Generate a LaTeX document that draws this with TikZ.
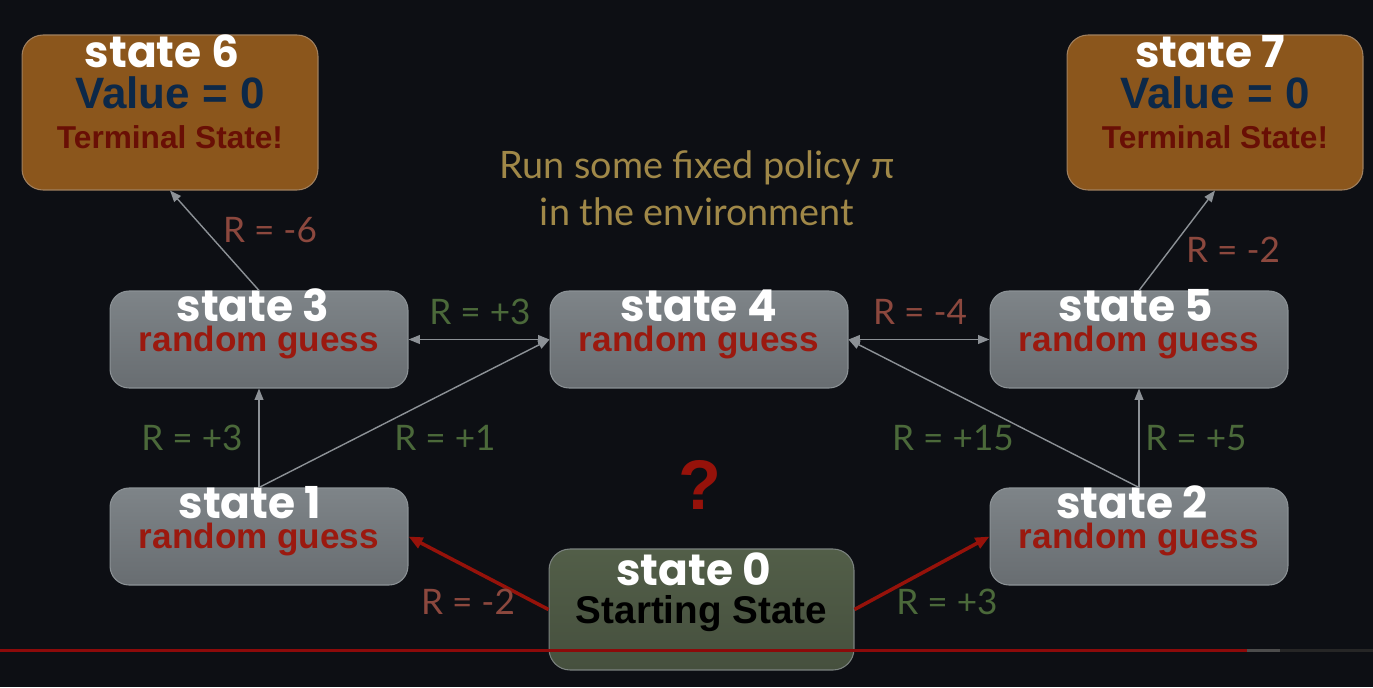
\documentclass[tikz,border=0pt]{standalone}
\usepackage{fontspec}
\setmainfont{Liberation Sans}
\newfontfamily\titlefont{Poppins}
\newfontfamily\labelfont{Lato}
\usetikzlibrary{arrows.meta,positioning}
\usepackage{xcolor}
\definecolor{bgdark}{RGB}{13,15,20}
\definecolor{guesstop}{RGB}{126,132,136}
\definecolor{guessbot}{RGB}{104,109,113}
\definecolor{boxedge}{RGB}{140,146,150}
\definecolor{termorange}{RGB}{139,86,28}
\definecolor{termedge}{RGB}{160,128,95}
\definecolor{starttop}{RGB}{82,94,72}
\definecolor{startbot}{RGB}{70,80,62}
\definecolor{guessred}{RGB}{155,25,15}
\definecolor{valuenavy}{RGB}{12,40,72}
\definecolor{termred}{RGB}{105,15,5}
\definecolor{lblgreen}{RGB}{75,105,58}
\definecolor{lblred}{RGB}{140,72,62}
\definecolor{policygold}{RGB}{160,136,72}
\definecolor{arrowgrey}{RGB}{140,145,150}
\definecolor{arrowred}{RGB}{150,18,10}
\definecolor{barred}{RGB}{140,10,10}

\begin{document}
\begin{tikzpicture}[
    x=0.02cm, y=-0.02cm,
    guessbox/.style={draw=boxedge, line width=0.6pt, rounded corners=0.38cm, minimum width=5.96cm, minimum height=1.94cm, top color=guesstop, bottom color=guessbot},
    termbox/.style={draw=termedge, line width=0.6pt, rounded corners=0.42cm, minimum width=5.92cm, minimum height=3.1cm, fill=termorange},
    startbox/.style={draw=boxedge!70!starttop, line width=0.6pt, rounded corners=0.42cm, minimum width=6.1cm, minimum height=2.42cm, top color=starttop, bottom color=startbot},
    stitle/.style={anchor=base, inner sep=0pt, text=white, font=\titlefont\bfseries\fontsize{25}{29}\selectfont},
    guess/.style={anchor=base, inner sep=0pt, text=guessred, font=\bfseries\fontsize{20}{24}\selectfont},
    value/.style={anchor=base, inner sep=0pt, text=valuenavy, font=\bfseries\fontsize{25}{29}\selectfont},
    term/.style={anchor=base, inner sep=0pt, text=termred, font=\bfseries\fontsize{18}{22}\selectfont},
    start/.style={anchor=base, inner sep=0pt, text=black, font=\bfseries\fontsize{22}{26}\selectfont},
    reward/.style={inner sep=0pt, font=\labelfont\fontsize{20}{24}\selectfont},
    good/.style={reward, text=lblgreen},
    bad/.style={reward, text=lblred},
    arrow/.style={-{Triangle[length=6.5pt, width=5pt]}, arrowgrey, line width=0.8pt},
    both/.style={{Triangle[length=6.5pt, width=5pt]}-{Triangle[length=6.5pt, width=5pt]}, arrowgrey, line width=0.8pt},
    redarrow/.style={-{Triangle[length=8pt, width=6.5pt]}, arrowred, line width=2pt},
]
    \fill[bgdark] (0,0) rectangle (1373,687);
    \useasboundingbox (0,0) rectangle (1373,687);

    % terminal states
    \node[termbox] (s6) at (170,112.5) {};
    \node[stitle] (s6t) at ([xshift=-0.16cm, yshift=-0.66cm]s6.north) {state 6};
    \node[value] (s6v) at ([yshift=-1.48cm]s6.north) {Value = 0};
    \node[term] (s6x) at ([yshift=-2.28cm]s6.north) {Terminal State!};

    \node[termbox] (s7) at (1215,112.5) {};
    \node[stitle] (s7t) at ([xshift=-0.1cm, yshift=-0.66cm]s7.north) {state 7};
    \node[value] (s7v) at ([yshift=-1.48cm]s7.north) {Value = 0};
    \node[term] (s7x) at ([yshift=-2.28cm]s7.north) {Terminal State!};

    % middle row
    \node[guessbox] (s3) at (259,339.5) {};
    \node[stitle] (s3t) at ([xshift=-0.12cm, yshift=-0.63cm]s3.north) {state 3};
    \node[guess] (s3g) at ([yshift=-1.23cm]s3.north) {random guess};

    \node[guessbox] (s4) at (699,339.5) {};
    \node[stitle] (s4t) at ([yshift=-0.63cm]s4.north) {state 4};
    \node[guess] (s4g) at ([yshift=-1.23cm]s4.north) {random guess};

    \node[guessbox] (s5) at (1139,339.5) {};
    \node[stitle] (s5t) at ([xshift=-0.06cm, yshift=-0.63cm]s5.north) {state 5};
    \node[guess] (s5g) at ([yshift=-1.23cm]s5.north) {random guess};

    % bottom row
    \node[guessbox] (s1) at (259,536.5) {};
    \node[stitle] (s1t) at ([xshift=-0.18cm, yshift=-0.63cm]s1.north) {state 1};
    \node[guess] (s1g) at ([yshift=-1.23cm]s1.north) {random guess};

    \node[guessbox] (s2) at (1139,536.5) {};
    \node[stitle] (s2t) at ([xshift=-0.14cm, yshift=-0.63cm]s2.north) {state 2};
    \node[guess] (s2g) at ([yshift=-1.23cm]s2.north) {random guess};

    \node[startbox] (s0) at (701.5,609.5) {};
    \node[stitle] (s0t) at ([xshift=-0.16cm, yshift=-0.74cm]s0.north) {state 0};
    \node[start] (s0s) at ([yshift=-1.5cm]s0.north) {Starting State};

    % policy note and question mark
    \node[align=center, text=policygold, font=\labelfont\fontsize{21.5}{26.6}\selectfont] (policy) at (697,188) {Run some fixed policy π\\in the environment};
    \node[text=arrowred, font=\bfseries\fontsize{40}{44}\selectfont] (ask) at (700,485) {?};

    % transitions
    \draw[arrow] (s3.north) -- (s6.south);
    \draw[arrow] (s5.north) -- (s7.south);
    \draw[both] (s3.east) -- (s4.west);
    \draw[both] (s4.east) -- (s5.west);
    \draw[arrow] (s1.north) -- (s3.south);
    \draw[arrow] (s1.north) -- (s4.west);
    \draw[arrow] (s2.north) -- (s5.south);
    \draw[arrow] (s2.north) -- (s4.east);
    \draw[redarrow] (s0.west) -- (s1.east);
    \draw[redarrow] (s0.east) -- (s2.west);

    % rewards
    \node[bad] (r36) at (270,230) {R = -6};
    \node[bad] (r57) at (1233,250) {R = -2};
    \node[good] (r34) at (480,312) {R = +3};
    \node[bad] (r45) at (920,312) {R = -4};
    \node[good] (r13) at (192,438) {R = +3};
    \node[good] (r14) at (445,438) {R = +1};
    \node[good] (r24) at (953,438) {R = +15};
    \node[good] (r25) at (1196,438) {R = +5};
    \node[bad] (r01) at (468,602) {R = -2};
    \node[good] (r02) at (947,602) {R = +3};

    % progress bar
    \draw[barred, line width=1.7pt] (0,650) -- (1247,650);
    \draw[black!70!white, line width=1.7pt] (1247,650) -- (1280,650);
    \draw[black!85!white, line width=1.7pt] (1280,650) -- (1373,650);
\end{tikzpicture}
\end{document}
